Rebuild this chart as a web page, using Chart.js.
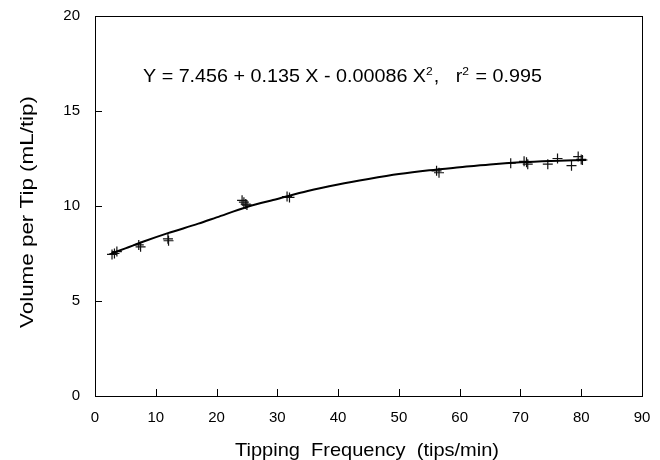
<!DOCTYPE html>
<html>
<head>
<meta charset="utf-8">
<script src="https://cdn.jsdelivr.net/npm/chart.js@4.4.0/dist/chart.umd.min.js"></script>
<style>
  html, body { margin: 0; padding: 0; background: #fff; }
  #wrap { width: 660px; height: 460px; }
</style>
</head>
<body>
<div id="wrap"><canvas id="chart" width="660" height="460"></canvas></div>
<script>
// measured points (tips/min, mL/tip)
const freqX = [2.8, 3.2, 3.6, 7.2, 7.5, 12.0, 12.1, 24.2, 24.5, 24.8, 25.0, 31.6, 32.0,
  56.2, 56.6, 68.4, 70.6, 71.0, 71.2, 74.5, 76.1, 78.4, 79.5, 80.0, 80.2];
const volY = [7.45, 7.5, 7.6, 7.95, 7.85, 8.27, 8.17, 10.3, 10.2, 10.1, 10.05, 10.5, 10.45,
  11.85, 11.75, 12.25, 12.35, 12.3, 12.2, 12.2, 12.5, 12.12, 12.6, 12.45, 12.42];

// fitted curve
const fitX = [2.7, 5, 8, 12, 17, 20, 25, 30, 35, 40, 45, 50, 55, 60, 65, 70, 75, 80.8];
const fitY = [7.5, 7.77, 8.13, 8.57, 9.07, 9.4, 9.95, 10.37, 10.79, 11.13, 11.42, 11.68, 11.88, 12.04, 12.19, 12.3, 12.37, 12.42];

const xTicks = [0, 10, 20, 30, 40, 50, 60, 70, 80, 90];
const yTicks = [0, 5, 10, 15, 20];

const FONT = '"Liberation Sans", Arial, sans-serif';

// text in the original is slightly stretched sideways, so fit it to a width
function stretchText(ctx, text, x, y, width) {
  const w = ctx.measureText(text).width;
  ctx.save();
  ctx.translate(x, y);
  ctx.scale(width / w, 1);
  ctx.fillText(text, 0, 0);
  ctx.restore();
}

// frame, inward ticks, axis titles and the equation
const decor = {
  id: 'decor',
  afterDraw(chart) {
    const ctx = chart.ctx;
    const a = chart.chartArea;
    const xs = chart.scales.x, ys = chart.scales.y;
    ctx.save();
    ctx.strokeStyle = '#000';
    ctx.lineWidth = 1;
    ctx.strokeRect(Math.round(a.left) + 0.5, Math.round(a.top) + 0.5,
      Math.round(a.right - a.left), Math.round(a.bottom - a.top));
    ctx.beginPath();
    xTicks.slice(1, -1).forEach(v => {
      const px = Math.round(xs.getPixelForValue(v)) + 0.5;
      ctx.moveTo(px, a.bottom); ctx.lineTo(px, a.bottom - 7);
    });
    yTicks.slice(1, -1).forEach(v => {
      const py = Math.round(ys.getPixelForValue(v)) + 0.5;
      ctx.moveTo(a.left, py); ctx.lineTo(a.left + 7, py);
    });
    ctx.stroke();

    ctx.fillStyle = '#000';
    ctx.textBaseline = 'alphabetic';
    ctx.textAlign = 'center';
    ctx.font = '19px ' + FONT;
    // x title
    stretchText(ctx, 'Tipping  Frequency  (tips/min)', 367, 456, 264);
    // y title
    ctx.save();
    ctx.translate(33, 212);
    ctx.rotate(-Math.PI / 2);
    stretchText(ctx, 'Volume per Tip (mL/tip)', 0, 0, 232);
    ctx.restore();

    // equation with superscripts, stretched to the original width
    const parts = [
      ['Y = 7.456 + 0.135 X - 0.00086 X', false],
      ['2', true],
      [',   r', false],
      ['2', true],
      [' = 0.995', false]
    ];
    ctx.textAlign = 'left';
    let total = 0;
    parts.forEach(p => {
      ctx.font = (p[1] ? '11px ' : '18px ') + FONT;
      total += ctx.measureText(p[0]).width + (p[1] ? 1 : 0);
    });
    ctx.save();
    ctx.translate(143, 82);
    ctx.scale(399 / total, 1);
    let x = 0;
    parts.forEach(p => {
      ctx.font = (p[1] ? '11px ' : '18px ') + FONT;
      ctx.fillText(p[0], x, p[1] ? -7 : 0);
      x += ctx.measureText(p[0]).width + (p[1] ? 1 : 0);
    });
    ctx.restore();
    ctx.restore();
  }
};

const ctx = document.getElementById('chart').getContext('2d');
new Chart(ctx, {
  type: 'scatter',
  data: {
    datasets: [
      {
        label: 'fit',
        data: fitX.map((v, i) => ({ x: v, y: fitY[i] })),
        showLine: true,
        borderColor: '#000',
        borderWidth: 2,
        pointRadius: 0,
        cubicInterpolationMode: 'monotone',
        fill: false
      },
      {
        label: 'measured',
        data: freqX.map((v, i) => ({ x: v, y: volY[i] })),
        pointStyle: 'cross',
        pointRadius: 5,
        borderColor: '#111',
        borderWidth: 1.2,
        showLine: false
      }
    ]
  },
  options: {
    responsive: false,
    animation: false,
    layout: { padding: { left: 0, right: 18, top: 16, bottom: 0 } },
    plugins: { legend: { display: false }, tooltip: { enabled: false } },
    scales: {
      x: {
        type: 'linear',
        min: 0, max: 90,
        afterBuildTicks: s => { s.ticks = xTicks.map(v => ({ value: v })); },
        afterFit: s => { s.height = 64; s.paddingLeft = 0; s.paddingRight = 0; },
        grid: { display: false, drawTicks: false },
        border: { display: false },
        ticks: { color: '#000', padding: 13, maxRotation: 0, font: { family: FONT, size: 15 } }
      },
      y: {
        min: 0, max: 20,
        afterBuildTicks: s => { s.ticks = yTicks.map(v => ({ value: v })); },
        afterFit: s => { s.width = 95; s.paddingTop = 0; s.paddingBottom = 0; },
        grid: { display: false, drawTicks: false },
        border: { display: false },
        ticks: { color: '#000', padding: 15, font: { family: FONT, size: 15 } }
      }
    }
  },
  plugins: [decor]
});
</script>
</body>
</html>
